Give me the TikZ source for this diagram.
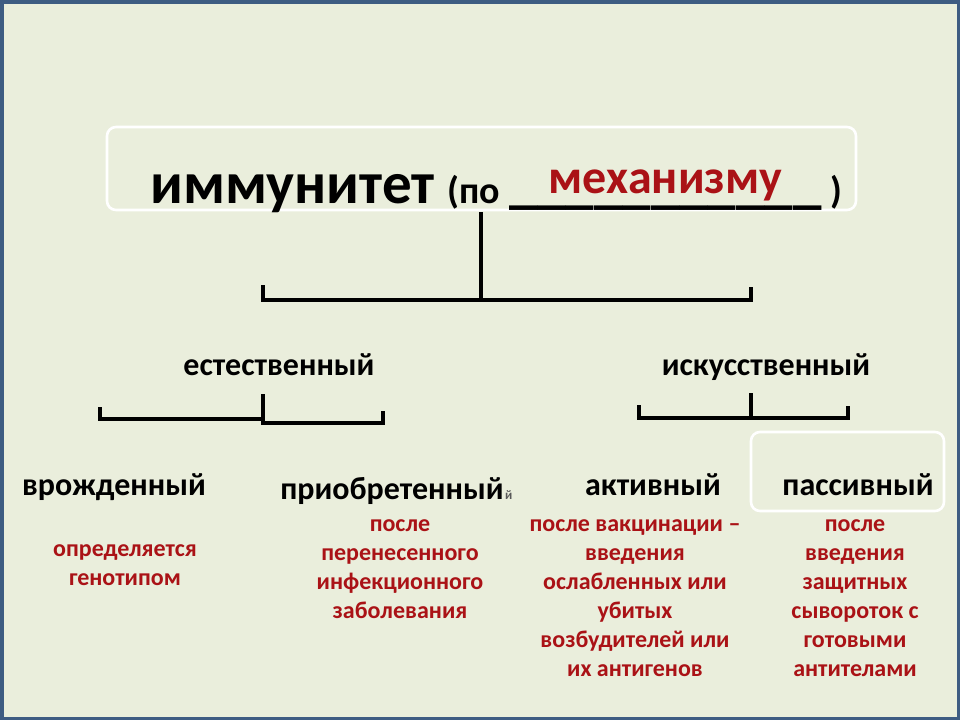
\documentclass[tikz,border=0pt]{standalone}
\usepackage{fontspec}
\setmainfont{Carlito}
\definecolor{bg}{RGB}{234,238,220}
\definecolor{frameblue}{RGB}{62,92,130}
\definecolor{darkred}{RGB}{170,18,22}
\tikzset{
  lbl/.style={inner sep=0pt, anchor=base, font=\bfseries\fontsize{32}{36}\selectfont, text=black},
  desc/.style={inner sep=0pt, anchor=base, align=center, font=\bfseries\fontsize{24}{29}\selectfont, text=darkred},
  conn/.style={line width=3.2pt, draw=black},
  wbox/.style={draw=white, line width=2.6pt, rounded corners=9pt}
}
\begin{document}
\begin{tikzpicture}[x=1pt,y=-1pt]
\useasboundingbox (0,0) rectangle (960,720);
\fill[bg] (0,0) rectangle (960,720);
\draw[frameblue, line width=3.5pt] (1.75,1.75) rectangle (958.25,718.25);
% top box
\draw[wbox] (107,127) rectangle (856,210);
\node[inner sep=0pt, anchor=base west, font=\bfseries\fontsize{59}{62}\selectfont] (title) at (150,203) {иммунитет};
\node[inner sep=0pt, anchor=base west, font=\bfseries\fontsize{38}{42}\selectfont] (po) at (447,203) {(по};
\node[inner sep=0pt, anchor=base west, font=\bfseries\fontsize{57}{60}\selectfont] (blank) at (509,202) {\_\_\_\_\_\_\_\_\_\_\_};
\node[inner sep=0pt, anchor=base west, font=\bfseries\fontsize{48}{52}\selectfont, text=darkred] (mech) at (548,193) {механизму};
\node[inner sep=0pt, anchor=base west, font=\bfseries\fontsize{38}{42}\selectfont] (cl) at (830,203) {)};
% level 1
\coordinate (t0) at (481,212);
\coordinate (t1) at (481,300);
\coordinate (tl) at (263,300);
\coordinate (tr) at (751,300);
\draw[conn] (t0) -- (t1);
\draw[conn] ([yshift=15pt]tl) -- (tl) -- (tr) -- ([yshift=13pt]tr);
\node[lbl] (nat) at (279,375) {естественный};
\node[lbl] (art) at (766,375) {искусственный};
% left bracket
\coordinate (l0) at (263,394);
\coordinate (l1) at (263,419);
\coordinate (la) at (100,419);
\coordinate (l2) at (263,423);
\coordinate (lb) at (383,423);
\draw[conn] (l0) -- (l1) -- (la) -- ([yshift=12pt]la);
\draw[conn] (l1) -- (l2) -- (lb) -- ([yshift=12pt]lb);
% right bracket
\coordinate (r0) at (751,393);
\coordinate (r1) at (751,418);
\coordinate (ra) at (639,418);
\coordinate (rb) at (848,418);
\draw[conn] (r0) -- (r1);
\draw[conn] ([yshift=13pt]ra) -- (ra) -- (rb) -- ([yshift=12pt]rb);
% passive box
\draw[wbox] (751,432) rectangle (944,511);
% level 2
\node[lbl] (inn) at (114,495) {врожденный};
\node[lbl] (acq) at (392,499) {приобретенный};
\node[inner sep=0pt, anchor=base west, font=\bfseries\fontsize{13}{15}\selectfont, text=black!65] (acqy) at ([xshift=1pt]acq.base east) {й};
\node[lbl] (act) at (653,495) {активный};
\node[lbl] (pas) at (858,495) {пассивный};
% descriptions (base = baseline of last line)
\node[desc] (dinn) at (125,585) {определяется\\генотипом};
\node[desc] (dacq) at (400,618) {после\\перенесенного\\инфекционного\\заболевания};
\node[desc] (dact) at (635,676) {после вакцинации –\\введения\\ослабленных или\\убитых\\возбудителей или\\их антигенов};
\node[desc] (dpas) at (855,676) {после\\введения\\защитных\\сывороток с\\готовыми\\антителами};
\end{tikzpicture}
\end{document}
